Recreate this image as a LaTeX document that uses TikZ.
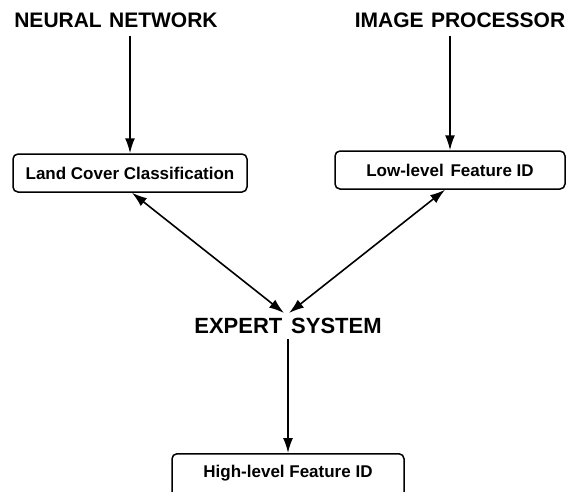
\documentclass[tikz,border=0pt]{standalone}
\usepackage{fontspec}
\setmainfont{Liberation Sans}
\usepackage{tikz}
\usetikzlibrary{arrows.meta}

\tikzset{
  title/.style={font=\bfseries\fontsize{21}{24}\selectfont, inner sep=5pt},
  box/.style={draw, line width=1.5pt, rounded corners=5pt,
    font=\bfseries\fontsize{17}{20}\selectfont, minimum height=38pt, inner sep=0pt},
  link/.style={line width=1.6pt, -{Latex[length=15pt,width=10pt]}},
  twoway/.style={line width=1.6pt, {Latex[length=15pt,width=10pt]}-{Latex[length=15pt,width=10pt]}},
}

\begin{document}
\begin{tikzpicture}[x=1pt,y=-1pt]
    \useasboundingbox (0,0) rectangle (583,491);

    % Sources
    \node[title] (nn) at (116,20) {NEURAL\hspace{0.35em}NETWORK};
    \node[title] (ip) at (460,20) {IMAGE\hspace{0.35em}PROCESSOR};

    % First level boxes
    \node[box, minimum width=234pt] (lcc) at (130,173) {Land Cover Classification};
    \node[box, minimum width=230pt] (lfid) at (450,170) {Low-level\hspace{0.4em}Feature ID};

    \draw[link] ([yshift=-3pt]nn.south -| lcc.north) -- (lcc.north);
    \draw[link] ([yshift=-3pt]ip.south -| lfid.north) -- (lfid.north);

    % Expert system
    \node[title, font=\bfseries\fontsize{22}{25}\selectfont] (es) at (288,326) {EXPERT\hspace{0.4em}SYSTEM};

    \draw[twoway] ([xshift=2pt]lcc.south) -- ([xshift=-4pt]es.north);
    \draw[twoway] ([xshift=-5pt]lfid.south) -- ([xshift=1pt]es.north);

    % Result box (runs off the bottom edge)
    \node[box, minimum width=232pt, minimum height=0pt, inner ysep=12pt,
          text height=12pt, text depth=30pt, anchor=north] (hfid) at (288,453)
          {High-level Feature ID};

    \draw[link] (es.south) -- (hfid.north);
\end{tikzpicture}
\end{document}
